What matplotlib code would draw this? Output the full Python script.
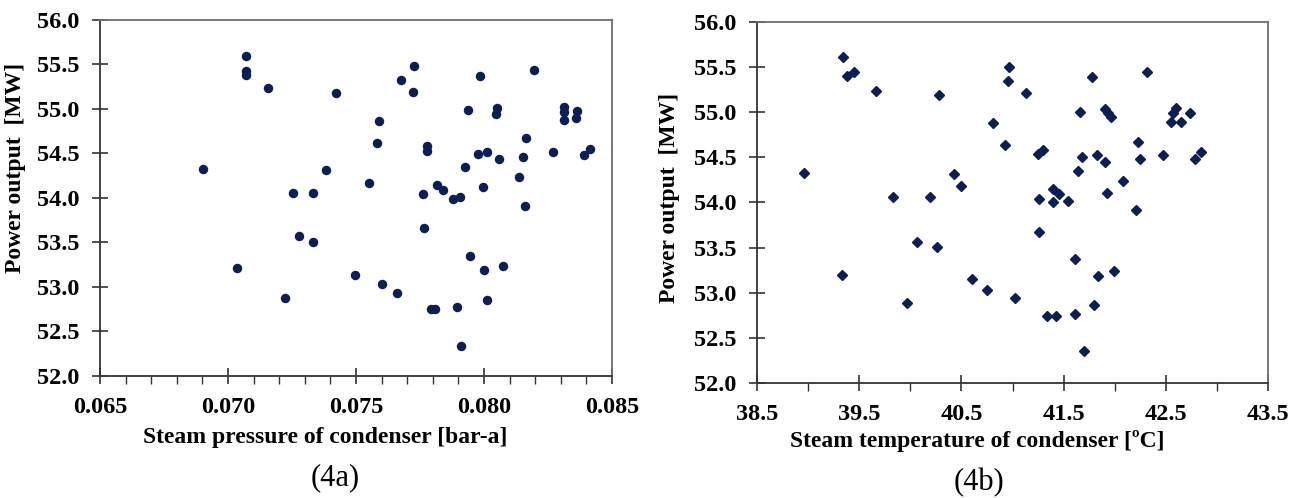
import numpy as np
import matplotlib
matplotlib.use('Agg')
import matplotlib.pyplot as plt
from matplotlib.ticker import MultipleLocator, FormatStrFormatter

# Данные (4a): давление пара в конденсаторе и мощность
pressure = [0.07069, 0.07069, 0.07069, 0.07157, 0.06904, 0.07253, 0.07333, 0.07383, 0.07277, 0.07333,
            0.07034, 0.07223, 0.07422, 0.07727, 0.07676, 0.07721, 0.07591, 0.07581, 0.07551, 0.07776,
            0.07776, 0.07762, 0.07815, 0.07841, 0.07880, 0.07906, 0.07766, 0.07936, 0.07986, 0.08052,
            0.08045, 0.08195, 0.08165, 0.08151, 0.08135, 0.08160, 0.08060, 0.08012, 0.07977, 0.07926,
            0.07998, 0.08271, 0.08314, 0.08314, 0.08314, 0.08362, 0.08359, 0.08415, 0.08389, 0.07497,
            0.07602, 0.07661, 0.07793, 0.07809, 0.07896, 0.07910, 0.07946, 0.08000, 0.08075, 0.08012]
power_a = [55.60, 55.43, 55.38, 55.23, 54.33, 54.06, 54.06, 54.31, 53.57, 53.50,
           53.21, 52.88, 55.18, 55.48, 55.32, 55.19, 54.86, 54.62, 54.17, 54.58,
           54.53, 54.04, 54.14, 54.09, 53.99, 54.01, 53.66, 54.99, 55.37, 55.01,
           54.94, 55.44, 54.67, 54.46, 54.23, 53.91, 54.44, 54.52, 54.49, 54.35,
           54.12, 54.52, 55.02, 54.96, 54.88, 54.98, 54.90, 54.55, 54.48, 53.14,
           53.03, 52.93, 52.75, 52.75, 52.77, 52.34, 53.35, 53.19, 53.24, 52.85]

# Данные (4b): температура пара в конденсаторе и мощность
temperature = [39.338, 39.378, 39.452, 39.667, 40.278, 38.960, 39.827, 40.193, 40.428, 40.496,
               40.069, 40.258, 39.328, 39.968, 40.601, 40.747, 40.806, 40.969, 40.953, 41.135,
               40.930, 41.253, 41.302, 41.778, 42.313, 41.657, 41.905, 41.937, 41.964, 42.597,
               42.574, 42.548, 42.649, 42.734, 42.225, 42.248, 42.476, 42.844, 42.783, 41.680,
               41.824, 41.908, 41.641, 42.081, 41.922, 42.206, 41.399, 41.458, 41.256, 41.399,
               41.546, 41.256, 41.612, 41.837, 41.993, 41.028, 41.340, 41.426, 41.609, 41.800,
               41.702]
power_b = [55.61, 55.40, 55.44, 55.24, 55.19, 54.33, 54.06, 54.06, 54.32, 54.18,
           53.56, 53.51, 53.20, 52.89, 53.15, 53.03, 54.88, 55.50, 55.34, 55.21,
           54.64, 54.54, 54.58, 55.39, 55.45, 55.00, 55.04, 54.99, 54.95, 55.05,
           54.99, 54.89, 54.89, 54.99, 54.67, 54.48, 54.53, 54.56, 54.48, 54.50,
           54.53, 54.45, 54.35, 54.24, 54.11, 53.92, 54.15, 54.09, 54.04, 54.00,
           54.02, 53.67, 53.37, 53.19, 53.24, 52.94, 52.74, 52.74, 52.76, 52.86,
           52.35]

plt.rcParams['font.family'] = ['Liberation Serif', 'DejaVu Serif']
color = '#0b1f55'

fig = plt.figure(figsize=(13.01, 4.98), dpi=100)
ax1 = fig.add_axes([0.0769, 0.245, 0.3935, 0.715])
ax2 = fig.add_axes([0.5819, 0.231, 0.3927, 0.725])


def style(ax):
    for s in ['top', 'right']:
        ax.spines[s].set_color('#6e6e6e')
        ax.spines[s].set_linewidth(1.3)
    for s in ['left', 'bottom']:
        ax.spines[s].set_color('#333333')
        ax.spines[s].set_linewidth(1.3)
    ax.set_ylim(52.0, 56.0)
    ax.yaxis.set_major_locator(MultipleLocator(0.5))
    ax.yaxis.set_major_formatter(FormatStrFormatter('%.1f'))
    ax.tick_params(axis='both', which='major', direction='inout', length=12, width=1.2,
                   color='#333333', labelsize=17.5)
    ax.tick_params(axis='y', which='major', pad=9)
    ax.tick_params(axis='x', which='major', pad=9)
    ax.tick_params(axis='x', which='minor', direction='out', length=6, width=1.0, color='#333333')
    ax.tick_params(axis='y', which='minor', left=False)
    for lab in ax.get_xticklabels() + ax.get_yticklabels():
        lab.set_fontweight('bold')


# (4a)
ax1.plot(pressure, power_a, 'o', color=color, markersize=5.8, linestyle='none')
ax1.set_xlim(0.065, 0.085)
ax1.xaxis.set_major_locator(MultipleLocator(0.005))
ax1.xaxis.set_minor_locator(MultipleLocator(0.001))
ax1.xaxis.set_major_formatter(FormatStrFormatter('%.3f'))
style(ax1)

# (4b)
ax2.plot(temperature, power_b, 'D', color=color, markersize=5.0, linestyle='none')
ax2.set_xlim(38.5, 43.5)
ax2.xaxis.set_major_locator(MultipleLocator(1.0, offset=0.5))
ax2.xaxis.set_minor_locator(MultipleLocator(0.5))
ax2.xaxis.set_major_formatter(FormatStrFormatter('%.1f'))
style(ax2)

# Подписи осей
fig.text(325 / 1301, 1 - 437 / 498, 'Steam pressure of condenser [bar-a]', ha='center', va='center',
         fontsize=17, fontweight='bold')
fig.text(16 / 1301, 1 - 168 / 498, 'Power output  [MW]', ha='center', va='center', rotation=90,
         fontsize=17, fontweight='bold')
fig.text(977 / 1301, 1 - 441 / 498, 'Steam temperature of condenser [ºC]', ha='center', va='center',
         fontsize=17, fontweight='bold')
fig.text(669 / 1301, 1 - 198 / 498, 'Power output  [MW]', ha='center', va='center', rotation=90,
         fontsize=17, fontweight='bold')

fig.text(335 / 1301, 1 - 478 / 498, '(4a)', ha='center', va='center', fontsize=22)
fig.text(979 / 1301, 1 - 483 / 498, '(4b)', ha='center', va='center', fontsize=22)

fig.savefig('out.png', dpi=100)
